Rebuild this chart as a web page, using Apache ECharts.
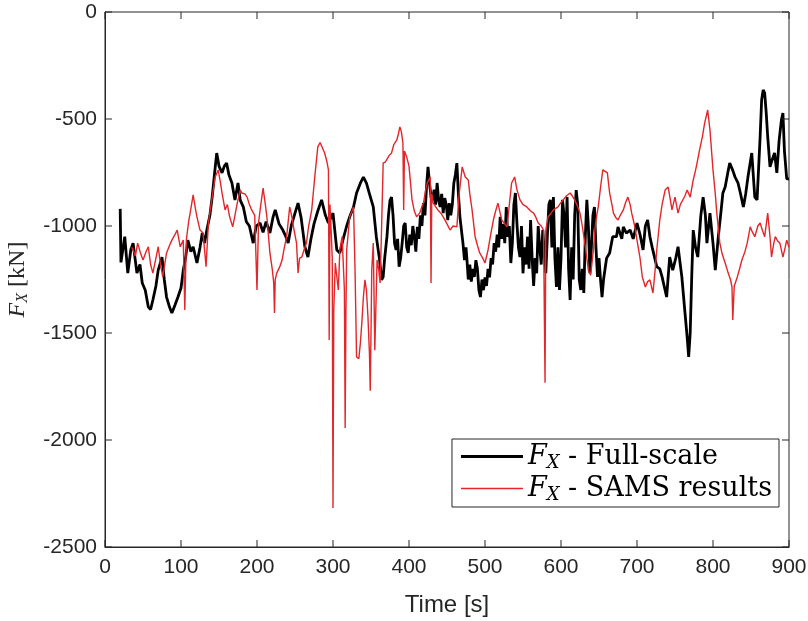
<!DOCTYPE html>
<html>
<head>
<meta charset="utf-8">
<script src="https://cdn.jsdelivr.net/npm/echarts@6/dist/echarts.min.js"></script>
<style>html,body{margin:0;padding:0;background:#fff}#c{width:808px;height:621px}</style>
</head>
<body>
<div id="c"></div>
<script>
const xTicks = [0,100,200,300,400,500,600,700,800,900];
const yTicks = [-2500,-2000,-1500,-1000,-500,0];
const seriesNames = ['Full-scale','SAMS results'];

const fullTime = [20,21,26,30,34,37,42,46,49,53,57,60,63,67,70,75,78,81,85,88,92,96,100,103,106,109,113,116,121,125,128,131,134,138,141,144,147,150,154,157,160,163,167,171,175,178,182,186,190,195,199,204,208,212,217,221,224,229,234,238,241,245,250,254,258,263,267,271,275,280,285,290,294,300,305,309,313,318,322,327,331,336,340,344,348,353,357,361,364,
366,368,371,373,375,377,379,381,383,385,387,389,391,393,395,397,399,401,403,405,407,409,411,413,415,417,419,421,423,425,427,429,431,433,435,437,439,441,443,445,447,449,451,453,455,457,459,461,463,465,467,469,471,473,475,
476,478,480,482,484,486,488,490,492,494,496,498,500,502,504,506,508,510,512,514,516,518,520,522,524,526,528,530,532,534,536,538,540,542,544,546,548,550,552,554,556,558,560,562,564,566,568,570,572,574,576,578,580,582,584,586,588,590,592,594,596,598,600,602,604,606,608,610,612,614,616,618,620,622,624,626,628,630,632,634,636,638,640,642,644,646,648,650,652,654,656,658,660,664,
668,673,675,680,682,686,691,695,700,704,708,711,714,717,720,726,730,733,739,743,747,751,754,759,763,766,768,770,772,774,777,780,784,787,790,792,796,800,803,807,810,813,816,819,822,826,829,833,836,840,843,846,851,855,858,862,864,866,868,870,872,875,877,881,884,887,890,892,894,897,900];
const fullFx = [-920,-1170,-1050,-1220,-1110,-1080,-1220,-1180,-1266,-1300,-1378,-1390,-1346,-1280,-1206,-1145,-1250,-1332,-1380,-1407,-1370,-1332,-1290,-1206,-1150,-1066,-1120,-1097,-1173,-1100,-1033,-1080,-1019,-950,-865,-760,-659,-720,-752,-720,-706,-760,-799,-878,-799,-880,-911,-980,-1000,-1080,-1000,-986,-1030,-980,-1033,-960,-925,-990,-1019,-1050,-1080,-1000,-940,-893,-960,-1097,-1145,-1060,-990,-930,-878,-950,-986,-940,-1112,-1126,-1066,-1000,-957,-911,-846,-800,-771,-800,-850,-911,-1050,-1150,-1252,
-1238,-1150,-1050,-950,-880,-865,-950,-1080,-1112,-1060,-1190,-1150,-1080,-1000,-986,-1100,-1126,-1040,-1090,-1000,-1050,-1120,-1004,-1060,-950,-1000,-893,-950,-820,-724,-800,-865,-880,-830,-900,-799,-880,-911,-850,-940,-870,-900,-972,-893,-950,-900,-800,-760,-706,-850,-957,-1020,-1080,-1159,-1100,
-1145,-1250,-1180,-1260,-1200,-1238,-1160,-1200,-1300,-1332,-1250,-1300,-1240,-1280,-1200,-1240,-1150,-1180,-1080,-1120,-1040,-1100,-957,-1060,-990,-1080,-911,-1050,-1000,-1173,-1080,-900,-846,-986,-1100,-1145,-1000,-1221,-1100,-1180,-1050,-1200,-972,-1150,-1280,-1150,-1221,-1000,-1100,-1180,-1019,-1120,-1220,-1050,-900,-878,-1100,-865,-1150,-1285,-1100,-1299,-1150,-878,-950,-1100,-865,-1200,-1346,-1100,-1250,-950,-832,-900,-1250,-1299,-1200,-1313,-1050,-878,-1000,-1221,-1100,-950,-911,-1100,-1238,-1150,-1250,-1332,-1250,-1200,-1150,-1126,
-1050,-1050,-1004,-1060,-1004,-1033,-1019,-1060,-986,-1040,-1112,-1000,-972,-1050,-1100,-1190,-1200,-1238,-1332,-1145,-1206,-1150,-1097,-1238,-1400,-1519,-1612,-1500,-1238,-1019,-1100,-1145,-950,-865,-950,-1080,-940,-1080,-1206,-1050,-950,-846,-818,-760,-706,-740,-771,-800,-846,-911,-850,-771,-659,-865,-878,-584,-411,-364,-379,-470,-584,-724,-700,-659,-752,-600,-505,-472,-650,-780,-780];

const samsTime = [35,37,40,43,47,50,54,57,60,63,67,70,73,76,79,81,85,88,92,95,99,103,105,107,110,112,116,119,121,125,129,133,136,141,145,149,152,154,158,161,164,168,171,174,178,180,184,187,190,193,197,200,202,205,208,211,213,217,220,222,223,224,226,230,233,236,239,243,246,248,252,254,256,259,262,265,268,272,276,280,283,285,289,292,294,295,296,297,299,300,301,303,307,309,312,315,316,317,318,322,325,327,329,331,334,336,338,340,342,344,346,348,349,350,351,353,355,357,358,360,362,364,366,369,371,374,377,380,384,386,388,390,392,393,394,397,400,404,407,410,414,417,419,422,424,428,429,430,432,435,438,442,445,450,454,458,463,466,470,474,478,480,483,487,490,493,497,500,504,507,511,514,517,520,522,526,529,532,535,539,542,546,550,555,560,564,567,570,574,577,579,580,583,587,590,596,600,603,607,612,615,618,622,625,628,632,636,639,641,643,645,647,649,652,655,658,661,664,667,669,672,675,678,682,685,688,691,693,697,700,704,707,711,714,717,721,724,726,730,733,737,741,744,746,750,754,757,759,763,766,770,774,777,779,782,786,789,793,796,800,803,805,809,812,816,820,823,825,826,828,832,835,838,842,845,849,852,855,859,862,865,868,872,875,877,880,882,885,888,892,895,897,900];
const samsFx = [-1100,-1112,-1140,-1080,-1130,-1159,-1120,-1097,-1180,-1220,-1150,-1097,-1180,-1238,-1170,-1126,-1090,-1066,-1040,-1019,-1097,-1066,-1392,-1066,-980,-940,-855,-920,-957,-1019,-1033,-1190,-986,-865,-771,-738,-800,-846,-925,-900,-957,-1004,-950,-893,-832,-846,-850,-865,-900,-925,-950,-1299,-986,-900,-823,-900,-957,-1126,-1200,-1266,-1407,-1250,-1220,-1190,-1159,-1100,-1050,-911,-960,-1004,-1080,-1220,-1150,-1145,-1110,-1080,-1000,-925,-771,-630,-610,-606,-659,-700,-738,-1533,-900,-972,-1150,-2318,-1400,-1173,-1299,-1112,-1050,-1300,-1944,-1400,-1112,-957,-930,-911,-1206,-1612,-1620,-1547,-1450,-1332,-1252,-1300,-1425,-1600,-1770,-1500,-1206,-1080,-1580,-1300,-1159,-1200,-1266,-1000,-706,-700,-692,-670,-659,-620,-598,-570,-537,-560,-612,-925,-650,-678,-720,-878,-930,-957,-940,-910,-893,-830,-799,-771,-1266,-850,-893,-910,-925,-940,-957,-990,-1019,-1000,-1004,-850,-724,-771,-785,-850,-925,-1050,-1090,-1126,-1150,-1173,-1112,-1050,-972,-930,-893,-940,-972,-990,-1004,-900,-799,-771,-830,-878,-900,-911,-930,-940,-960,-986,-1000,-1019,-1733,-1019,-957,-940,-925,-911,-890,-878,-860,-846,-860,-878,-910,-940,-1000,-1097,-1206,-1230,-1221,-1100,-1004,-950,-911,-820,-738,-745,-752,-846,-900,-940,-960,-972,-950,-925,-890,-865,-900,-940,-1000,-1066,-1150,-1238,-1285,-1260,-1252,-1313,-1200,-1112,-972,-900,-832,-818,-880,-925,-865,-940,-900,-893,-860,-832,-865,-785,-740,-706,-650,-584,-519,-458,-551,-738,-850,-940,-1080,-1130,-1173,-1220,-1250,-1285,-1439,-1280,-1238,-1200,-1159,-1120,-1080,-1004,-1030,-1050,-1000,-986,-1020,-1050,-940,-1050,-1145,-1080,-1050,-1070,-1080,-1145,-1100,-1066,-1100];

const fullData = fullTime.map((t,i)=>[t, fullFx[i]]);
const samsData = samsTime.map((t,i)=>[t, samsFx[i]]);

const xMin = xTicks[0], xMax = xTicks[xTicks.length-1];
const yMin = yTicks[0], yMax = yTicks[yTicks.length-1];
const axisColor = '#262626';
const redColor = '#e3262a';
const tickLen = 7;
const chart = echarts.init(document.getElementById('c'), null, {renderer:'canvas'});
const sansFont = 'Liberation Sans';
const serifFont = 'DejaVu Serif';
const legendRich = {
  f: {fontFamily: serifFont, fontStyle: 'italic', fontSize: 27, color: '#000'},
  s: {fontFamily: serifFont, fontStyle: 'italic', fontSize: 18, color: '#000', padding: [13,0,0,0]},
  t: {fontFamily: serifFont, fontSize: 27, color: '#000'}
};
const tickFmt = v => String(v);

function tickLine(x1,y1,x2,y2){
  return {type:'line', shape:{x1:x1,y1:y1,x2:x2,y2:y2}, style:{stroke:axisColor, lineWidth:1}};
}
// inward tick marks on all four sides, placed through the axis scales
const xTickSeries = {
  type: 'custom', coordinateSystem: 'cartesian2d', silent: true, clip: false, z: 10,
  data: xTicks.map(v => [v, yMin]),
  renderItem: function(params, api){
    const v = api.value(0);
    const b = api.coord([v, yMin]);
    const t = api.coord([v, yMax]);
    return {type:'group', children:[
      tickLine(b[0], b[1], b[0], b[1]-tickLen),
      tickLine(t[0], t[1], t[0], t[1]+tickLen)
    ]};
  }
};
const yTickSeries = {
  type: 'custom', coordinateSystem: 'cartesian2d', silent: true, clip: false, z: 10,
  data: yTicks.map(v => [xMin, v]),
  renderItem: function(params, api){
    const v = api.value(1);
    const l = api.coord([xMin, v]);
    const r = api.coord([xMax, v]);
    return {type:'group', children:[
      tickLine(l[0], l[1], l[0]+tickLen, l[1]),
      tickLine(r[0], r[1], r[0]-tickLen, r[1])
    ]};
  }
};

chart.setOption({
  animation: false,
  backgroundColor: '#fff',
  grid: {left: 105, right: 19, top: 12, bottom: 74, containLabel: false, outerBoundsMode: 'none',
         show: true, borderColor: axisColor, borderWidth: 1, backgroundColor: 'transparent'},
  legend: {
    orient: 'vertical',
    right: 29, bottom: 114,
    backgroundColor: '#fff',
    borderColor: '#262626', borderWidth: 1,
    padding: [4, 7, 3, 9],
    itemWidth: 62, itemHeight: 20, itemGap: 3,
    symbolKeepAspect: true,
    data: [
      {name: seriesNames[0], icon: 'path://M0,0H62V3H0Z'},
      {name: seriesNames[1], icon: 'path://M0,0H62V1.5H0Z'}
    ],
    formatter: function(name){ return '{f|F}{s|X}{t| - ' + name + '}'; },
    textStyle: {rich: legendRich}
  },
  xAxis: {
    type: 'value', min: xMin, max: xMax, interval: 100, position: 'bottom',
    name: 'Time [s]', nameLocation: 'middle', nameGap: 46,
    nameTextStyle: {fontFamily: sansFont, fontSize: 24, color: axisColor},
    axisLine: {show: true, onZero: false, lineStyle: {color: axisColor, width: 1}},
    axisTick: {show: false},
    axisLabel: {fontFamily: sansFont, fontSize: 21, color: axisColor, margin: 10, formatter: tickFmt},
    splitLine: {show: false}
  },
  yAxis: {
    type: 'value', min: yMin, max: yMax, interval: 500, position: 'left',
    name: '{f|F}{s|X}{t| [kN]}', nameLocation: 'middle', nameGap: 74, nameRotate: 90,
    nameTextStyle: {rich: {
      f: {fontFamily: 'Liberation Serif', fontStyle: 'italic', fontSize: 24, color: axisColor},
      s: {fontFamily: 'Liberation Serif', fontStyle: 'italic', fontSize: 16, color: axisColor, padding: [11,0,0,0]},
      t: {fontFamily: 'Liberation Serif', fontSize: 24, color: axisColor}
    }},
    axisLine: {show: true, onZero: false, lineStyle: {color: axisColor, width: 1}},
    axisTick: {show: false},
    axisLabel: {fontFamily: sansFont, fontSize: 21, color: axisColor, margin: 8, formatter: tickFmt},
    splitLine: {show: false}
  },
  series: [{
    name: seriesNames[0], type: 'line', data: fullData,
    symbol: 'none', lineStyle: {color: '#000', width: 2.8}, itemStyle: {color: '#000'}, z: 2
  },{
    name: seriesNames[1], type: 'line', data: samsData,
    symbol: 'none', lineStyle: {color: redColor, width: 1.4}, itemStyle: {color: redColor}, z: 3
  }, xTickSeries, yTickSeries]
});
</script>
</body>
</html>
